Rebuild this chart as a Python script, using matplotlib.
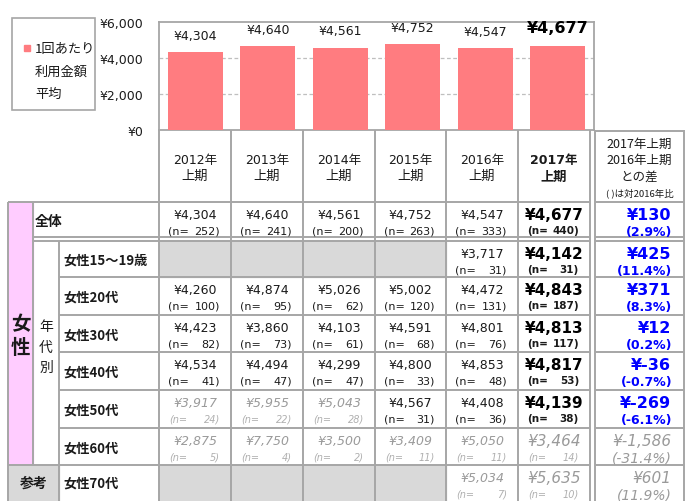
import matplotlib
matplotlib.use("Agg")
import matplotlib.pyplot as plt
from matplotlib.patches import Rectangle

plt.rcParams['font.family'] = ['Noto Sans CJK JP', 'DejaVu Sans']
NUMF = ['DejaVu Sans', 'Noto Sans CJK JP']

# ---------------- data ----------------
periods = ['2012年\n上期', '2013年\n上期', '2014年\n上期', '2015年\n上期', '2016年\n上期', '2017年\n上期']
avg_all = [4304, 4640, 4561, 4752, 4547, 4677]
n_all = [252, 241, 200, 263, 333, 440]

row_labels = ['女性15～19歳', '女性20代', '女性30代', '女性40代', '女性50代', '女性60代', '女性70代']
v_15_19 = [None, None, None, None, 3717, 4142]
n_15_19 = [None, None, None, None, 31, 31]
v_20s = [4260, 4874, 5026, 5002, 4472, 4843]
n_20s = [100, 95, 62, 120, 131, 187]
v_30s = [4423, 3860, 4103, 4591, 4801, 4813]
n_30s = [82, 73, 61, 68, 76, 117]
v_40s = [4534, 4494, 4299, 4800, 4853, 4817]
n_40s = [41, 47, 47, 33, 48, 53]
v_50s = [3917, 5955, 5043, 4567, 4408, 4139]
n_50s = [24, 22, 28, 31, 36, 38]
v_60s = [2875, 7750, 3500, 3409, 5050, 3464]
n_60s = [5, 4, 2, 11, 11, 14]
v_70s = [None, None, None, None, 5034, 5635]
n_70s = [None, None, None, None, 7, 10]

diff_vals = [130, 425, 371, 12, -36, -269, -1586, 601]
diff_pcts = [2.9, 11.4, 8.3, 0.2, -0.7, -6.1, -31.4, 11.9]

diff_header = ['2017年上期', '2016年上期', 'との差']
diff_note = '( )は対2016年比'
legend_label = ['1回あたり', '利用金額', '平均']
y_ticks = [0, 2000, 4000, 6000]

# ---------------- styles ----------------
BAR = '#FF7C80'
LINE = '#A6A6A6'
PINK = '#FFCCFF'
GREYFILL = '#D9D9D9'
BLUE = '#0000FF'
TXT = '#1a1a1a'
GREYTXT = '#9a9a9a'
LOWN = 30

W, H = 690, 502
fig = plt.figure(figsize=(W / 100, H / 100), dpi=100)

tab = fig.add_axes([0, 0, 1, 1])
tab.set_xlim(0, W)
tab.set_ylim(H, 0)
tab.axis('off')

# ---------------- bar chart ----------------
cx0, cx1 = 159, 594
cy_top, cy_bot = 22.7, 130.7
ax = fig.add_axes([cx0 / W, 1 - cy_bot / H, (cx1 - cx0) / W, (cy_bot - cy_top) / H])
xs = list(range(len(avg_all)))
ax.bar(xs, avg_all, width=0.76, color=BAR, zorder=3)
ax.set_xlim(-0.5, len(avg_all) - 0.5)
ax.set_ylim(0, 6000)
ax.set_yticks(y_ticks)
ax.set_yticklabels([f'¥{v:,}' for v in y_ticks], fontsize=9, color=TXT, family=NUMF)
ax.tick_params(axis='y', length=0, pad=11)
ax.set_xticks([])
for v in [2000, 4000]:
    ax.axhline(v, color='#BFBFBF', lw=0.9, ls=(0, (3, 2)), zorder=1)
for s in ax.spines.values():
    s.set_color(LINE)
    s.set_linewidth(1.3)
for i, v in enumerate(avg_all):
    last = i == len(avg_all) - 1
    ax.annotate(f'¥{v:,}', (i, v), xytext=(0, 13 if last else 12), textcoords='offset points',
                ha='center', va='center', fontsize=11.5 if last else 9, family=NUMF,
                fontweight='bold' if last else 'normal', color='black' if last else TXT)

# legend
tab.add_patch(Rectangle((12, 19), 83, 92, fill=False, ec=LINE, lw=1.2))
tab.add_patch(Rectangle((24, 46), 6, 6, color=BAR))
for t, y in zip(legend_label, [49, 72, 94]):
    tab.text(35, y, t, fontsize=9.5, va='center', ha='left', color=TXT)

# ---------------- table ----------------
cols = [159, 231, 303, 375, 446, 518, 590]
dx0, dx1 = 595, 684
row_tops = [203, 242, 278, 316, 353, 391, 429, 466]
row_bots = [238, 278, 316, 353, 391, 429, 466, 503]

tab.add_patch(Rectangle((8, 203), 25, 466 - 203, color=PINK, zorder=0))
tab.add_patch(Rectangle((8, 466), 51, 37, color=GREYFILL, zorder=0))
for r, vals in [(1, v_15_19), (7, v_70s)]:
    for c in range(6):
        if vals[c] is None:
            tab.add_patch(Rectangle((cols[c], row_tops[r]), cols[c + 1] - cols[c],
                                    row_bots[r] - row_tops[r], color=GREYFILL, zorder=0))


def hl(y, x0, x1):
    tab.plot([x0, x1], [y, y], color=LINE, lw=1.4, solid_capstyle='butt', zorder=2)


def vl(x, y0, y1):
    tab.plot([x, x], [y0, y1], color=LINE, lw=1.4, solid_capstyle='butt', zorder=2)


hl(131.5, dx0, dx1)
hl(203, 8, 590); hl(203, dx0, dx1)
hl(238, 33, 590); hl(238, dx0, dx1)
hl(242, 33, 590); hl(242, dx0, dx1)
for y in [278, 316, 353, 391, 429]:
    hl(y, 59, 590); hl(y, dx0, dx1)
hl(466, 8, 590); hl(466, dx0, dx1)
vl(8, 203, 503)
vl(33, 203, 466)
vl(59, 242, 503)
vl(159, 131, 503)
for x in cols[1:6]:
    vl(x, 127, 503)
vl(590, 131, 503)
vl(dx0, 131, 503)
vl(dx1, 131, 503)

# headers
for c, p in enumerate(periods):
    xc = (cols[c] + cols[c + 1]) / 2
    last = c == 5
    l1, l2 = p.split('\n')
    tab.text(xc, 161, l1, ha='center', va='center', fontsize=9, family=NUMF,
             fontweight='bold' if last else 'normal', color=TXT)
    tab.text(xc, 176.5, l2, ha='center', va='center', fontsize=9.5,
             fontweight='bold' if last else 'normal', color=TXT)
dcx = (dx0 + dx1) / 2
for t, y in zip(diff_header, [144, 160.5, 177]):
    tab.text(dcx, y, t, ha='center', va='center', fontsize=9, color=TXT)
tab.text(dcx, 193.5, diff_note, ha='center', va='center', fontsize=6.8, color=TXT)

# left labels
tab.text(35, 222, '全体', ha='left', va='center', fontsize=10, fontweight='bold', color=TXT)
tab.text(20.5, 325, '女', ha='center', va='center', fontsize=14, fontweight='bold', color=TXT)
tab.text(20.5, 348, '性', ha='center', va='center', fontsize=14, fontweight='bold', color=TXT)
for ch, y in zip('年代別', [327, 348, 368]):
    tab.text(46, y, ch, ha='center', va='center', fontsize=10, color=TXT)
tab.text(33.5, 484, '参考', ha='center', va='center', fontsize=10, fontweight='bold', color=TXT)
for r, lab in enumerate(row_labels, start=1):
    tab.text(63, (row_tops[r] + row_bots[r]) / 2 + 1 if r < 7 else 484, lab,
             ha='left', va='center', fontsize=9.5, fontweight='bold', color=TXT)

all_rows = [(avg_all, n_all), (v_15_19, n_15_19), (v_20s, n_20s), (v_30s, n_30s),
            (v_40s, n_40s), (v_50s, n_50s), (v_60s, n_60s), (v_70s, n_70s)]

for r, (vals, ns) in enumerate(all_rows):
    top = row_tops[r]
    for c in range(6):
        v, n = vals[c], ns[c]
        if v is None:
            continue
        xl, xr = cols[c], cols[c + 1]
        xc = (xl + xr) / 2
        last = c == 5
        if n < LOWN:
            kw = dict(family='DejaVu Sans', style='italic', color=GREYTXT)
            tab.text(xc, top + 12.5, f'¥{v:,}', ha='center', va='center',
                     fontsize=11 if last else 9, **kw)
            kwn = dict(family='DejaVu Sans', style='italic', color='#b0b0b0')
            tab.text(xl + 10, top + 28.5, '(n=', ha='left', va='center', fontsize=7, **kwn)
            tab.text(xr - 11, top + 28.5, f'{n})', ha='right', va='center', fontsize=7, **kwn)
        else:
            tab.text(xc, top + 12.5, f'¥{v:,}', ha='center', va='center', family='DejaVu Sans',
                     fontsize=11 if last else 9, fontweight='bold' if last else 'normal',
                     color='black' if last else TXT)
            wt = 'bold' if last else 'normal'
            fs = 7.5 if last else 8
            tab.text(xl + 9, top + 28.5, '(n=', ha='left', va='center', fontsize=fs,
                     family='DejaVu Sans', fontweight=wt, color=TXT)
            tab.text(xr - 11, top + 28.5, f'{n})', ha='right', va='center', fontsize=fs,
                     family='DejaVu Sans', fontweight=wt, color=TXT)
    dv, dp = diff_vals[r], diff_pcts[r]
    if ns[5] < LOWN:
        kw = dict(family='DejaVu Sans', style='italic', color=GREYTXT)
        tab.text(671, top + 12.5, f'¥{dv:,}', ha='right', va='center', fontsize=11, **kw)
        tab.text(672, top + 29.5, f'({dp:.1f}%)', ha='right', va='center', fontsize=10, **kw)
    else:
        tab.text(671, top + 12.5, f'¥{dv:,}', ha='right', va='center', fontsize=11.5,
                 family='DejaVu Sans', fontweight='bold', color=BLUE)
        tab.text(672, top + 29.5, f'({dp:.1f}%)', ha='right', va='center', fontsize=9,
                 family='DejaVu Sans', fontweight='bold', color=BLUE)

fig.savefig('out.png', dpi=100)
